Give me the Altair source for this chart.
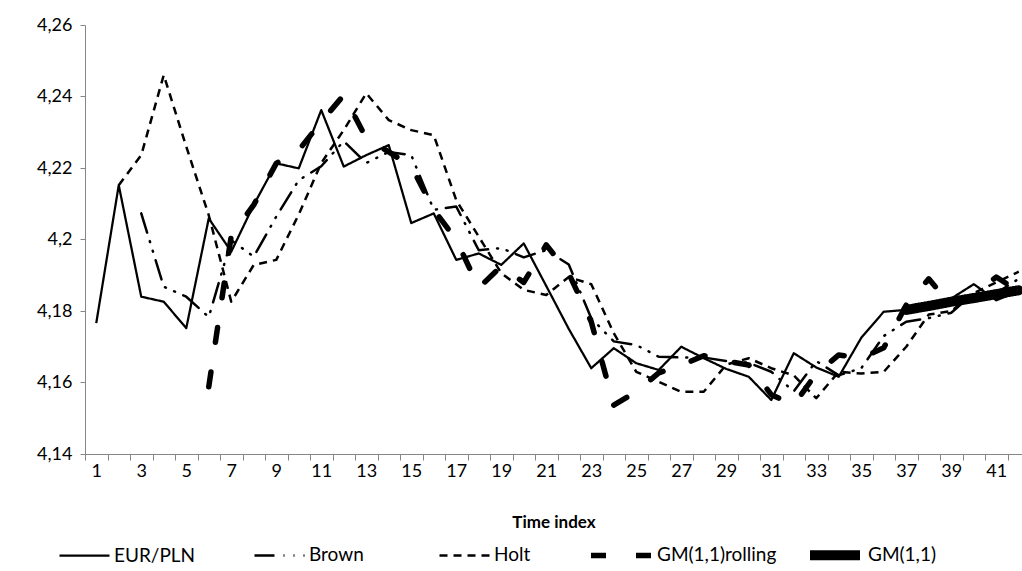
import altair as alt
import pandas as pd

# Time index 1..42
time_index = list(range(1, 43))

# Observed exchange rate
eur_pln = [4.1766, 4.2152, 4.1840, 4.1826, 4.1752, 4.2059, 4.1966, 4.2097, 4.2213, 4.2199,
           4.2362, 4.2204, 4.2236, 4.2264, 4.2046, 4.2073, 4.1943, 4.1961, 4.1929, 4.1989,
           4.1870, 4.1750, 4.1640, 4.1696, 4.1654, 4.1635, 4.1700, 4.1668, 4.1638, 4.1616,
           4.1551, 4.1682, 4.1642, 4.1616, 4.1725, 4.1798, 4.1803, 4.1815, 4.1835, 4.1875,
           4.1830, 4.1855]

# Brown's exponential smoothing forecast (from t=3)
brown = [None, None,
         4.2073, 4.1868, 4.1840, 4.1783, 4.1998, 4.1952, 4.2064, 4.2166,
         4.2205, 4.2275, 4.2214, 4.2245, 4.2236, 4.2083, 4.2092, 4.1970, 4.1976, 4.1950,
         4.1970, 4.1930, 4.1780, 4.1715, 4.1705, 4.1672, 4.1670, 4.1670, 4.1660, 4.1655,
         4.1630, 4.1575, 4.1660, 4.1620, 4.1640, 4.1730, 4.1770, 4.1780, 4.1795, 4.1850,
         4.1850, 4.1890]

# Holt's linear trend forecast (from t=2)
holt = [None,
        4.2152, 4.2236, 4.2460, 4.2260, 4.2068, 4.1826, 4.1929, 4.1943, 4.2070,
        4.2214, 4.2306, 4.2409, 4.2334, 4.2306, 4.2292, 4.2110, 4.2008, 4.1906, 4.1859,
        4.1845, 4.1895, 4.1875, 4.1738, 4.1630, 4.1602, 4.1574, 4.1574, 4.1650, 4.1668,
        4.1640, 4.1620, 4.1556, 4.1630, 4.1625, 4.1630, 4.1700, 4.1790, 4.1800, 4.1850,
        4.1880, 4.1910]

# Rolling GM(1,1) forecast (from t=6)
gm_rolling = [None, None, None, None, None,
              4.1588, 4.2010, 4.2097, 4.2213, 4.2250,
              4.2329, 4.2404, 4.2283, 4.2245, 4.2205, 4.2083, 4.1999, 4.1865, 4.1925, 4.1880,
              4.1985, 4.1905, 4.1770, 4.1537, 4.1574, 4.1627, 4.1648, 4.1675, 4.1660, 4.1649,
              4.1566, 4.1537, 4.1625, 4.1677, 4.1669, 4.1697, 4.1817, 4.1890, 4.1815, 4.1845,
              4.1895, 4.1855]

# Static GM(1,1) forecast (t=37..42)
gm = [None] * 36 + [4.1803, 4.1814, 4.1826, 4.1836, 4.1847, 4.1858]

series_names = ["EUR/PLN", "Brown", "Holt", "GM(1,1)rolling", "GM(1,1)"]
series_values = [eur_pln, brown, holt, gm_rolling, gm]
dash_styles = [[1, 0], [20, 9, 1, 9, 1, 9], [8, 6], [15, 30], [1, 0]]
line_widths = [2.25, 2.5, 2.5, 5.5, 10]
line_caps = ["butt", "round", "butt", "round", "round"]
# legend entry placement relative to the plot's left edge, and symbol lengths
legend_x = [-27, 168, 353, 503, 720]
legend_symbol_len = [50, 50, 50, 60, 50]

y_ticks = [4.14, 4.16, 4.18, 4.20, 4.22, 4.24, 4.26]
x_ticks = [i * 0.5 for i in range(1, 85)]

rows = []
for name, vals in zip(series_names, series_values):
    for t, v in zip(time_index, vals):
        if v is not None:
            rows.append({"t": t, "value": v, "series": name})
df = pd.DataFrame(rows)

axis_grey = "#868686"

x_enc = alt.X(
    "t:Q",
    scale=alt.Scale(domain=[0.5, 42.144], nice=False, zero=False),
    axis=alt.Axis(
        values=x_ticks,
        grid=False,
        domainColor=axis_grey,
        tickColor=axis_grey,
        tickSize=6,
        tickOpacity={"condition": {"test": "datum.value % 1 != 0", "value": 1}, "value": 0},
        labelExpr="datum.value % 2 == 1 ? datum.value : ''",
        labelOverlap=False,
        labelFlush=False,
        labelFontSize=18,
        labelPadding=2,
        title="Time index",
        titleFontSize=17,
        titleFontWeight="bold",
        titlePadding=34,
    ),
)
y_enc = alt.Y(
    "value:Q",
    scale=alt.Scale(domain=[4.14, 4.26], nice=False, zero=False),
    axis=alt.Axis(
        values=y_ticks,
        grid=False,
        domainColor=axis_grey,
        tickColor=axis_grey,
        tickSize=5,
        labelFontSize=18,
        labelPadding=8,
        labelExpr="replace(toString(round(datum.value * 100) / 100), '.', ',')",
        title=None,
    ),
)

layers = []
for name, dash, width, cap, lx, ll in zip(
    series_names, dash_styles, line_widths, line_caps, legend_x, legend_symbol_len
):
    # keep every legend row on the same centre line, whatever its stroke width and length
    ly = 504 - (width - 2.25) / 2 - (ll - 50) / 2
    legend = alt.Legend(
        title=None,
        orient="none",
        legendX=lx,
        legendY=ly,
        direction="horizontal",
        symbolType="stroke",
        symbolSize=ll * ll,
        symbolStrokeColor="black",
        symbolStrokeWidth=width,
        labelFontSize=19,
        labelOffset=3,
        padding=0,
    )
    layers.append(
        alt.Chart(df)
        .transform_filter(alt.datum.series == name)
        .mark_line(color="black", strokeWidth=width, strokeCap=cap, strokeJoin="round")
        .encode(
            x=x_enc,
            y=y_enc,
            strokeDash=alt.StrokeDash(
                "series:N", scale=alt.Scale(domain=[name], range=[dash]), legend=legend
            ),
        )
    )

chart = (
    alt.layer(*layers)
    .resolve_scale(strokeDash="independent")
    .properties(
        width=937,
        height=429,
        padding={"left": 85, "top": 25, "right": 0, "bottom": 117},
        autosize=alt.AutoSizeParams(type="none"),
    )
    .configure(font="Lato")
    .configure_view(stroke=None)
)

chart.save("out.html", embed_options={"renderer": "svg", "actions": False})
